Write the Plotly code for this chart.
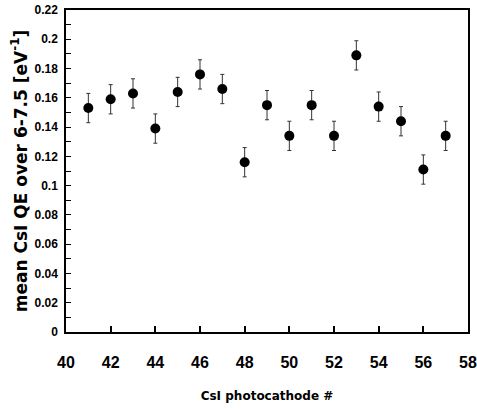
import plotly.graph_objects as go

photocathode = [41, 42, 43, 44, 45, 46, 47, 48, 49, 50, 51, 52, 53, 54, 55, 56, 57]
mean_qe = [0.153, 0.159, 0.163, 0.139, 0.164, 0.176, 0.166, 0.116, 0.155, 0.134,
           0.155, 0.134, 0.189, 0.154, 0.144, 0.111, 0.134]
qe_err = [0.01] * 17

x_ticks = list(range(40, 59, 2))
y_ticks = [round(0.02 * i, 2) for i in range(12)]
y_ticktext = [f"{v:g}" for v in y_ticks]

fig = go.Figure()
fig.add_trace(go.Scatter(
    x=photocathode, y=mean_qe, mode="markers",
    marker=dict(color="black", size=10, symbol="circle"),
    error_y=dict(type="data", array=qe_err, visible=True, color="#333333", thickness=1, width=2),
    showlegend=False,
))

fam = "Liberation Sans Narrow, Arial Narrow, Liberation Sans, Arial"

fig.update_layout(
    width=477, height=409,
    margin=dict(l=66, r=9, t=10, b=77),
    paper_bgcolor="white", plot_bgcolor="white",
    xaxis=dict(
        range=[40, 58], tickvals=x_ticks, ticks="inside", ticklen=6, tickwidth=1.5, tickcolor="black",
        showline=True, linecolor="black", linewidth=1.5, mirror=True, showgrid=False, zeroline=False,
        tickfont=dict(family=fam, size=16, color="black", weight="bold"),
        ticklabelstandoff=15, ticklabeloverflow="allow", automargin=False,
        title=dict(text="<b>CsI photocathode #</b>", font=dict(family="DejaVu Sans, Verdana", size=12, color="black"), standoff=22),
    ),
    yaxis=dict(
        range=[0, 0.22], tickvals=y_ticks, ticktext=y_ticktext, ticks="inside", ticklen=5, tickwidth=1, tickcolor="black",
        minor=dict(dtick=0.01, ticks="inside", ticklen=5, tickcolor="black", tickwidth=1),
        showline=True, linecolor="black", linewidth=1.5, mirror=True, showgrid=False, zeroline=False,
        tickfont=dict(family=fam, size=12, color="black", weight="bold"),
        ticklabelstandoff=4, ticklabeloverflow="allow", automargin=False,
        title=dict(text="<b>mean CsI QE over 6-7.5 [eV<sup>-1</sup>]</b>", font=dict(family="DejaVu Sans, Verdana", size=17, color="black"), standoff=3),
    ),
)

fig.write_html("out.html", config={"displayModeBar": False},
               post_script="document.body.style.margin='0';")
